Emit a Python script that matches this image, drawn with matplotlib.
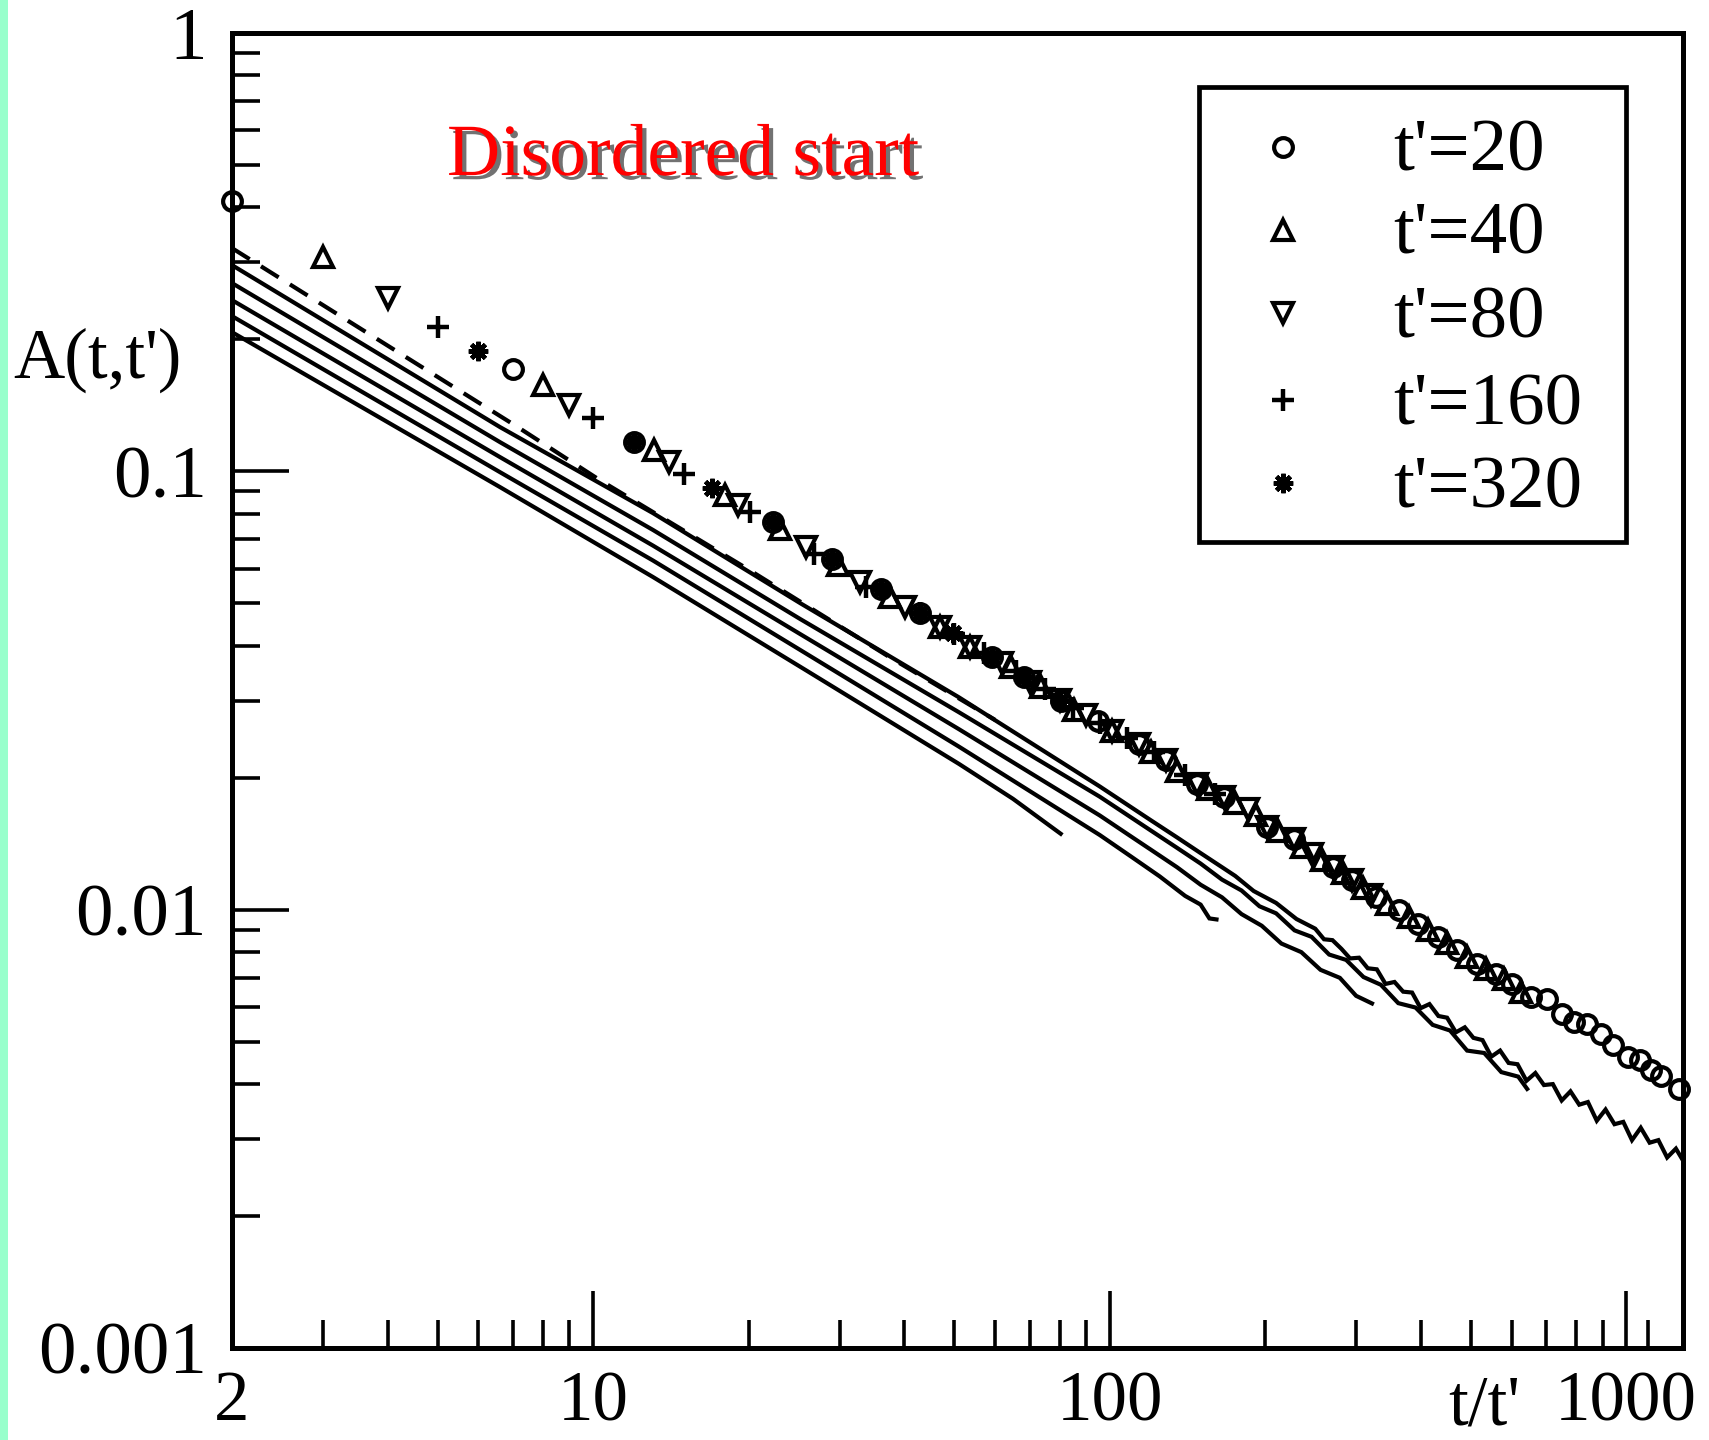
import matplotlib
matplotlib.use("Agg")
import matplotlib.pyplot as plt
import matplotlib.patheffects as pe
from matplotlib.patches import Rectangle
from matplotlib.lines import Line2D
from matplotlib.ticker import FixedLocator, FixedFormatter, NullFormatter

plt.rcParams["font.family"] = ["Liberation Serif", "DejaVu Serif"]

# autocorrelation curves (solid), one per waiting time t'
line_x_20 = [2.0, 6.61, 13.06, 25.2, 51.1, 95.7, 120, 135, 150, 165, 175, 190, 210, 230, 250,
             260, 270, 281, 292, 304, 316, 329, 342, 356, 370, 385, 400, 416, 433, 450, 468,
             487, 506, 527, 548, 570, 592, 616, 641, 667, 693, 721, 750, 780, 811, 843, 877,
             912, 949, 987, 1026, 1067, 1110, 1154, 1200, 1248, 1285]
line_a_20 = [0.2954, 0.1261, 0.0803, 0.0500, 0.0305, 0.0191, 0.01601, 0.01462, 0.01346,
             0.0125, 0.01194, 0.01103, 0.01036, 0.00952, 0.00905, 0.00856, 0.00852, 0.00814,
             0.00774, 0.00777, 0.00735, 0.00731, 0.00677, 0.00684, 0.00650, 0.00647, 0.00596,
             0.00609, 0.00572, 0.00567, 0.00525, 0.00539, 0.00510, 0.00504, 0.00462, 0.00477,
             0.00447, 0.00444, 0.00407, 0.00424, 0.00398, 0.00400, 0.00367, 0.00385, 0.00359,
             0.00364, 0.00330, 0.00350, 0.00324, 0.00328, 0.00298, 0.00318, 0.00294, 0.00298,
             0.00272, 0.00285, 0.00269]

line_x_40 = [2.0, 6.61, 13.06, 25.2, 51.1, 95.7, 120, 135, 150, 165, 180, 195, 210, 228, 246,
             266, 287, 310, 335, 362, 391, 422, 456, 492, 531, 573, 618, 643]
line_a_40 = [0.2688, 0.1165, 0.0735, 0.0460, 0.0282, 0.0181, 0.01517, 0.01384, 0.01274,
             0.01171, 0.01106, 0.01018, 0.00981, 0.00897, 0.00867, 0.00790, 0.00768, 0.00702,
             0.00674, 0.00612, 0.00598, 0.00546, 0.00530, 0.00477, 0.00471, 0.00426, 0.00416,
             0.00390]

line_x_80 = [2.0, 6.61, 13.06, 25.2, 51.1, 95.7, 110, 122, 135, 150, 165, 180, 197, 215, 235,
             256, 279, 300, 322]
line_a_80 = [0.2458, 0.1077, 0.0677, 0.0425, 0.0258, 0.0164, 0.01469, 0.01354, 0.0125, 0.01140,
             0.01067, 0.00977, 0.00919, 0.00837, 0.00800, 0.00729, 0.00699, 0.00636, 0.00611]

line_x_160 = [2.0, 6.61, 13.06, 25.2, 51.1, 95.7, 110, 125, 140, 150, 156, 161]
line_a_160 = [0.2260, 0.0995, 0.0626, 0.0391, 0.02354, 0.0148, 0.01322, 0.01191, 0.01075,
              0.01027, 0.00955, 0.0095]

line_x_320 = [2.0, 6.61, 13.06, 25.8, 51.1, 65.0, 80.4]
line_a_320 = [0.2077, 0.0920, 0.0574, 0.0352, 0.0215, 0.0179, 0.0149]

dashed_x = [2.0, 7.16, 10.32, 20.0, 37.6, 60.0]
dashed_a = [0.323, 0.126, 0.0954, 0.0597, 0.0376, 0.0271]

# scaled data points, one symbol set per waiting time
circ_x = [2, 7, 12, 22.3, 29, 36.1, 43, 59.3, 68.3, 80.4, 94.9, 113.9, 128.6, 147.6, 166.4,
          201.6, 227.4, 270.7, 295, 327.3, 363, 396, 432, 471, 513.5, 559.7, 600, 654, 701,
          751, 791.7, 841, 893, 941, 1008, 1062, 1119, 1168, 1263]
circ_a = [0.413, 0.1716, 0.1167, 0.0766, 0.0632, 0.054, 0.0474, 0.0377, 0.0339, 0.030, 0.027,
          0.0239, 0.0219, 0.0194, 0.01806, 0.01543, 0.01451, 0.0125, 0.01166, 0.01068, 0.00996,
          0.00929, 0.00866, 0.00807, 0.00752, 0.00714, 0.00678, 0.00632, 0.00626, 0.00579,
          0.00554, 0.00549, 0.00521, 0.0049, 0.0046, 0.00453, 0.0043, 0.00418, 0.0039]

tri_x = [3, 8, 13.1, 18, 23, 29.8, 37.5, 47, 53.6, 64.4, 73.6, 85.4, 101, 120, 135, 155, 175,
         192, 212, 236, 258, 283, 310, 345, 380, 414, 450, 492, 535, 580, 625]
tri_a = [0.309, 0.1573, 0.1117, 0.0882, 0.074, 0.061, 0.0517, 0.0441, 0.0397, 0.0358, 0.0322,
         0.0285, 0.0256, 0.0229, 0.0207, 0.0188, 0.0175, 0.0164, 0.0151, 0.0139, 0.0130,
         0.0121, 0.0112, 0.0103, 0.00963, 0.00898, 0.00838, 0.00779, 0.00733, 0.00694, 0.0065]

dtri_x = [4, 9, 14, 19.1, 25.8, 32.9, 40.2, 47, 53.6, 62, 70, 80, 90, 101, 114, 128.6, 147.6,
          166.4, 185, 201.6, 227, 246, 271, 295, 320]
dtri_a = [0.248, 0.1416, 0.105, 0.0837, 0.0672, 0.0559, 0.049, 0.0441, 0.0397, 0.0365, 0.0331,
          0.0301, 0.0278, 0.0256, 0.0239, 0.0219, 0.0194, 0.0181, 0.0170, 0.0154, 0.0145,
          0.0134, 0.0125, 0.01166, 0.0108]

plus_x = [5, 10, 15, 20.1, 26.8, 33.8, 43, 50, 57, 66, 75, 85, 96, 108, 122, 140, 160]
plus_a = [0.2136, 0.132, 0.0988, 0.0808, 0.0649, 0.0545, 0.0474, 0.0425, 0.0385, 0.0350,
          0.0318, 0.0288, 0.0266, 0.0247, 0.0229, 0.0203, 0.0184]

star_x = [6, 12, 17, 22.3, 29, 36.1, 43, 49.8, 59.3, 68.3, 80]
star_a = [0.1883, 0.1167, 0.0914, 0.0766, 0.0632, 0.054, 0.0474, 0.0427, 0.0377, 0.0339, 0.030]

series_labels = ["t'=20", "t'=40", "t'=80", "t'=160", "t'=320"]

x_major = [2, 10, 100, 1000]
x_major_labels = ["2", "10", "100", "1000"]
x_minor = [3, 4, 5, 6, 7, 8, 9, 20, 30, 40, 50, 60, 70, 80, 90,
           200, 300, 400, 500, 600, 700, 800, 900, 1100]
y_major = [0.001, 0.01, 0.1, 1]
y_major_labels = ["0.001", "0.01", "0.1", "1"]
y_minor = [0.002, 0.003, 0.004, 0.005, 0.006, 0.007, 0.008, 0.009,
           0.02, 0.03, 0.04, 0.05, 0.06, 0.07, 0.08, 0.09,
           0.2, 0.3, 0.4, 0.5, 0.6, 0.7, 0.8, 0.9]

W, H = 1709, 1440
fig = plt.figure(figsize=(W / 100, H / 100), dpi=100)
fig.patches.append(Rectangle((0, 0), 8 / W, 1, transform=fig.transFigure,
                             facecolor="#99ffcc", edgecolor="none"))

ax = fig.add_axes([232 / W, 92 / H, 1451 / W, 1315 / H])
ax.set_xscale("log")
ax.set_yscale("log")
ax.set_xlim(2, 1288)
ax.set_ylim(0.001, 1)

lw = 3.0
ax.plot(dashed_x, dashed_a, color="black", lw=lw, ls=(0, (5, 3.2)))
for xs, ys in [(line_x_20, line_a_20), (line_x_40, line_a_40), (line_x_80, line_a_80),
               (line_x_160, line_a_160), (line_x_320, line_a_320)]:
    ax.plot(xs, ys, color="black", lw=lw, solid_joinstyle="miter")

star_marker = (8, 2, 0)
styles = [
    (circ_x, circ_a, dict(marker="o", ms=13.5, mew=3.0, mfc="none")),
    (tri_x, tri_a, dict(marker="^", ms=14.5, mew=3.0, mfc="none")),
    (dtri_x, dtri_a, dict(marker="v", ms=14.5, mew=3.0, mfc="none")),
    (plus_x, plus_a, dict(marker="+", ms=16, mew=3.2)),
    (star_x, star_a, dict(marker=star_marker, ms=14, mew=3.2)),
]
for xs, ys, kw in styles:
    ax.plot(xs, ys, ls="none", color="black", mec="black", clip_on=False, **kw)

# axes frame and ticks
for side in ax.spines.values():
    side.set_linewidth(3.6)
ax.xaxis.set_major_locator(FixedLocator(x_major))
ax.xaxis.set_major_formatter(FixedFormatter(x_major_labels))
ax.xaxis.set_minor_locator(FixedLocator(x_minor))
ax.xaxis.set_minor_formatter(NullFormatter())
ax.yaxis.set_major_locator(FixedLocator(y_major))
ax.yaxis.set_major_formatter(FixedFormatter(y_major_labels))
ax.yaxis.set_minor_locator(FixedLocator(y_minor))
ax.yaxis.set_minor_formatter(NullFormatter())
ax.tick_params(which="both", direction="in", top=False, right=False, width=2.6)
ax.tick_params(which="major", length=41)
ax.tick_params(which="minor", length=20)
ax.tick_params(axis="x", which="major", labelsize=51, pad=16)
ax.tick_params(axis="y", which="major", labelsize=54, pad=18)

# legend box drawn in axes coordinates
ax.add_patch(Rectangle((0.6662, 0.6132), 0.2944, 0.346, transform=ax.transAxes,
                       fill=False, lw=3.4, edgecolor="black", zorder=5))
row_y = [0.9135, 0.8502, 0.7868, 0.7209, 0.6576]
for (xs, ys, kw), label, yy in zip(styles, series_labels, row_y):
    ax.add_line(Line2D([0.7241], [yy], transform=ax.transAxes, ls="none",
                       color="black", mec="black", clip_on=False, zorder=6, **kw))
    ax.text(0.8001, yy - 24 / 1315, label, transform=ax.transAxes, fontsize=54,
            va="baseline", ha="left", zorder=6)

fig.text(447 / W, (H - 175) / H, "Disordered start", color="red", fontsize=53,
         va="baseline", ha="left",
         path_effects=[pe.withSimplePatchShadow(offset=(3, -3), shadow_rgbFace="0.15",
                                                alpha=0.65)])
fig.text(13 / W, (H - 378) / H, "A(t,t')", fontsize=51, va="baseline", ha="left")
fig.text(1484 / W, (H - 1424) / H, "t/t'", fontsize=51, va="baseline", ha="center")

fig.savefig("out.png", dpi=100)
